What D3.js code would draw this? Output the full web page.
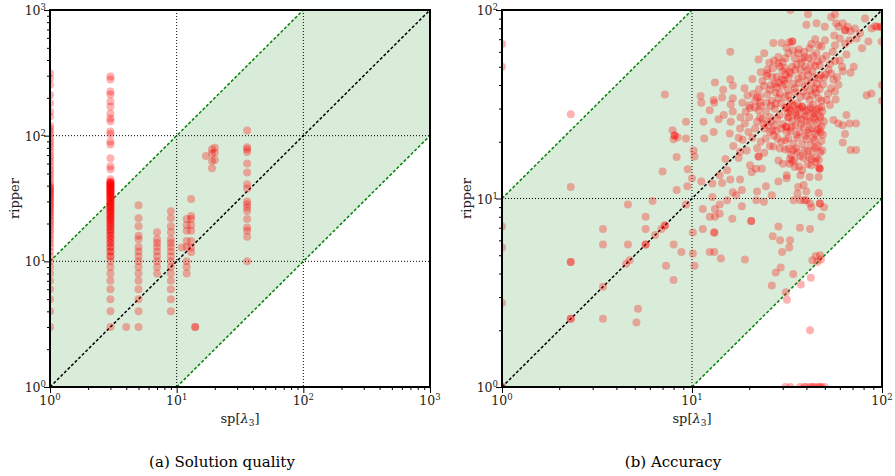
<!DOCTYPE html>
<html>
<head>
<meta charset="utf-8">
<script src="https://cdn.jsdelivr.net/npm/d3@7"></script>
<style>
  body { margin: 0; background: #fff; }
  svg text { font-family: "DejaVu Serif", serif; }
</style>
</head>
<body>
<div id="chart"></div>
<script>
// (a) solution quality: columns of ripper values per sp[λ3] value
var qualityColumns = [
  [1, [3,4,5,6,7,8,9,10,11,12,13,14,15,16,17,18,19,20,21,22,23,24,25,26,27,28,29,30,
       31,32,33,34,35,36,37,38,39,40,42,45,48,51,54,58,62,66,70,75,80,85,90,96,102,108,
       114,120,142,156,181,211,254,286,314]],
  [3, [3,4,5,6,7,8,9,10,11,12,13,14,15,16,17,18,19,20,21,22,23,24,25,26,27,28,29,30,
       31,32,33,34,35,36,37,38,39,40,41,42,43,11,12,13,14,15,16,17,18,19,20,21,22,23,24,
       25,26,27,28,29,30,31,32,33,34,35,36,37,38,39,40,41,42,43,
       45,54,57,66,85,90,103,108,130,137,150,171,187,213,225,280,296]],
  [4, [3]],
  [5, [3,4,5,6,7,8,9,10,11,12,13,15,16,19,22,28]],
  [7, [8,9,10,11,12,13,14,15,17]],
  [9, [4,5,6,7,8,9,10,11,12,13,14,15,17,19,22,25]],
  [11, [12.9]],
  [12, [8,9,10,13,14.5,17.5,19.5,21.7]],
  [13, [11.8,12.9,14.5,17.5,19.5,21.7,23,31.4]],
  [14, [3,3]],
  [36, [10,15.7,17.5,18.6,21.7,25.2,26.8,28.5,30,38,41,51,60,74,78,81,110]]
];
var qualityExtra = [[17,69],[19,78],[19,72],[19,63],[19,55],[20,80],[20,73],[20,64]];

// (b) accuracy: [sp[λ3], ripper]
var accuracyPoints = [
  [1,1],[1,1],[1,2.8],[1,5.5],[1,7.1],[1,50],[1,66],
  [2.3,2.3],[2.3,2.3],[3.4,2.3],[5.1,2.2],[5.2,2.6],[3.4,3.4],[8.0,3.7],[2.3,4.6],[2.3,4.6],
  [4.5,4.5],[4.7,4.7],[7.3,4.4],[8.8,5.2],[3.4,5.7],[4.6,5.7],[5.7,5.7],[5.7,5.7],[8.0,5.7],
  [6.4,6.4],[3.4,6.9],[5.7,6.9],[6.9,6.9],[7.2,7.2],[7.2,7.2],[5.7,8.0],[4.6,9.3],[6.2,9.7],
  [9.3,9.3],[2.3,11.5],[8.3,11.1],[9.45,11.6],[7.0,13.9],[9.5,14.3],[8.3,16.6],[8.0,20.6],
  [8.1,21.6],[8.1,21.6],[8.4,21.1],[9.3,20.8],[7.9,23],[9.3,25.5],[2.3,28],[7.2,35.6],
  [10,12.8],[10.1,6.6],[10.1,5.1],[10.3,4.4],
  [15.9,60],[22.4,54.6],[24,58.9],[26.8,66.9],[29.6,66.9],[32.5,67.4],[28.5,56.3],[30,52.9],
  [29,50],[31,55.4],[23,46.8],[24.9,48.2],[26.6,49.1],[27.9,44.3],[31,45.2],[24.7,44.6],
  [13.2,41.3],[15.9,42.9],[20.8,43.1],[14.6,37.8],[16.4,39.8],[18.9,38.5],[19.6,35.2],[22,34.4],
  [11.1,35],[11.2,32.2],[13,33.3],[13.1,32.2],[14.4,34.3],[16.4,34],[16,31.6],[18.4,32.2],
  [20,31.2],[21.4,30.4],[22.8,32.2],[24,39.5],[24.9,35.7],[25.7,37.7],[27.3,40.5],[28.5,41.3],
  [29.6,43.1],[31,40.5],[31,34.7],[28.5,34],[26.3,33],[24.7,32.2],[22.8,34.7],
  [21,36],[22.5,38],[23.5,42],[25,46],[26,40],[26.5,44],[27.5,36.5],[28,38.8],[29,36],
  [29.8,39.5],[30.5,42.5],[32,37.5],[32.5,47],[30,47.5],[28.5,52],[27,54],[25.5,52.5],[26,31],
  [27.5,31.8],[29.5,32],[23,31],[21.5,33],
  [33,100],[56.6,95],[54,91.9],[57.4,85],[59,81.5],[62.2,85],[66,81.5],[68.3,77.1],[72,79.8],
  [76.7,75.3],[73.5,70.6],[63.9,78.1],[63.9,78.1],[56,73.3],[60,70.6],[56.6,65.1],[63.9,66.2],
  [67.5,69.2],[50,81.5],[45.2,85],[40,83.4],[40.8,95],[81.4,90.2],[88.2,79.8],[94,81.5],
  [97.7,81.5],[100,81],[92,82],[99.6,68.1],[33.7,68.1],[33.7,68.1],[36.2,58.9],[32.2,58.9],
  [39.3,56.3],[34.8,55.4],[41.6,62.6],[46.4,65.1],[50.1,69.2],[45.2,58.9],[50.9,57.2],[42.5,52],
  [39.3,50],[47,50.8],[53.2,51.8],[56.6,53.7],[37.2,48.2],[33.7,50],[30.9,49.1],[52.3,48.2],
  [61.6,50],[62.2,47.3],[71,50],[68.3,46.4],[78.5,62.6],[84.8,68.1],[32.2,43.4],[36.2,43.4],
  [40.7,45.2],[46.4,43.4],[49,40.2],[44.4,38.5],[39.3,39.2],[34.8,38.5],[55.5,42.6],[58.9,40.1],
  [56.6,37],[32.2,35.3],[37.2,34.7],[41.6,33.3],[46.4,34],[51,33.3],[53.2,31.3],[83,35.3],
  [88,36.1],[100,40],[100,33],[33.7,31.4],[38,30.6],[43.5,31.4],[48,30.6],
  [33,33],[35,36.5],[36,32],[38.5,37],[40,35],[42,37.5],[43,35.5],[45,36.5],[47,38],[48,33],
  [34,40.5],[36.5,41],[38,44.5],[40,42],[42.5,41],[44,44],[45.5,40.5],[47.5,45],[49.5,43.8],
  [33,46],[35,48],[37.5,52.5],[40.5,48],[43,47.5],[44.5,50.5],[46,53.5],[48.5,55],[35.5,51.5],
  [38,55],[41,55.5],[43.5,57],[36.5,62],[39,60],[42.5,66],[44.5,70],[48,64],[34,61],[31.5,63],
  [52,36],[54,38.5],[57,33.5],[50.5,45.5],[54,46],[58,44],[60,54],[65,58],[55,60],
  [11.5,25.5],[11.6,20.8],[10.2,18],[10.3,16.7],[13,22.5],[13.8,26.3],[16,25.5],[16.4,28.9],
  [14.7,27.7],[12.4,29.4],[15.8,22.1],[17.9,23.5],[17.6,21],[19.8,22.5],[19.2,28.9],[20.2,30.2],
  [22.4,29.4],[22,25.5],[23.8,25],[25.7,27],[27.3,29.9],[29,27.7],[31,30.2],[32.3,26.8],
  [27.3,24.5],[29.6,23.5],[31.5,22.5],[25.7,22.5],[24.5,20.8],[28.2,20.8],[31,20.4],[26.8,18.9],
  [22.8,27],[24.5,29],[26,25.5],[28,26.5],[30,24.8],[32,28.5],[27,21.5],[29.5,20],[31.5,24],
  [24,23.5],[17.9,17.7],[17.6,16.4],[19.4,18],[22.4,16.7],[22.4,16.7],[23.3,14.4],[21.7,14.4],
  [20.2,15],[25.7,19],[29,18.4],[32.2,18.4],[28.5,15.9],[30.1,15.3],[32.8,16.2],[11.2,12.3],
  [12.8,12],[15,16.2],[15.3,14.1],[14,13.3],[14.4,12.1],[15.9,12.6],[17.9,12.6],[20.6,13.8],
  [16.4,10.8],[18.3,11.1],[22,10.9],[24.5,11.6],[28.5,12.3],[31.5,13.3],[12.8,10.2],[17.1,10.4],
  [26.3,10.4],[15.3,9.8],
  [16.5,19],[18.5,20.5],[19,25],[20.8,21],[21.5,23.5],[23,20],[22,18.5],[24,17.5],[20,27],
  [18,27],[25,24.5],[26.5,23],[27.8,22.8],[23.5,26.5],
  [31.5,30.5],[33,29],[34.5,31],[36,29.5],[38,30.8],[40,29.2],[42,30.4],[44,28.6],[46.5,30],
  [48.5,29],[32,27],[33.8,25.8],[35.5,27.6],[37.5,26.2],[39.5,27.3],[41.5,25.5],[43.5,27],
  [45.5,25.2],[47.5,26.8],[49.5,25.6],[31.2,24],[33,22.8],[35,24.4],[36.8,22.5],[38.8,23.8],
  [40.8,22.3],[42.8,23.6],[44.8,22],[46.8,23.4],[48.8,21.8],[32.2,20.8],[34.2,19.6],[36,21],
  [38,19.4],[40,20.6],[42,19.2],[44,20.4],[46,19],[48,20.2],[31,18.2],[33.2,17],[35.2,18.4],
  [37.2,16.8],[39.2,18],[41.2,16.6],[43.2,17.8],[45.2,16.4],[47.3,17.6],[32.6,15.3],[34.6,16],
  [36.6,14.8],[40.6,15.2],[44.6,15.6],[46.6,14.6],
  [32.5,29.8],[35,28.3],[37,30],[39,28],[41,29.8],[43,28],[45,29.5],[47,27.5],[33.5,23.8],
  [35.5,21.8],[37.5,24.8],[39.5,21.5],[41.5,23.2],[43.5,21],[45.5,23],[47.5,22.4],[34,18],
  [36,17.6],[38.5,16.4],[40.5,17.8],[42.5,16.2],[44.5,18.6],[46.5,16],[48.5,18],[36,26.8],
  [40.3,25.8],[44.3,26.2],[48,24.2],
  [55.5,26.1],[58.9,25],[65,27.7],[62.2,24.5],[67.5,25],[73,25],[63.9,22],[62.2,19.8],[68.3,18.1],
  [73,18.1],[47,14.4],[47,14.4],[33.7,15.7],[34.8,14.7],[38,14.1],[37.2,13.3],[42.5,15],[41.6,13],
  [31.5,12.8],[46.4,13],[36.2,11.5],[38.7,11.8],[35.9,10.6],[40,10.9],[46.4,10.7],[37.2,9.8],
  [40,9.8],[47,9.4],
  [11.4,8.8],[14,9.3],[18.3,9.1],[16.3,7.8],[20.5,7.6],[20.5,7.6],[13.2,8.8],[12.4,8],[13.2,8],
  [14,8.3],[11.4,6.9],[13.1,6.6],[13.1,6.6],[12.4,5.2],[13.1,5.2],[14.2,4.8],[19,4.75],[21.8,9.8],
  [23.9,9.6],[26.6,6.3],[28.5,7.1],[29.1,6],[32.8,6],[29.8,5.2],[32.5,5.5],[37,7],[41.8,6.9],
  [34.3,9.8],[39,9.8],[41.8,9.4],[42.5,9],[47.2,9.4],[49.5,9],[48,8],[29.3,4.3],[27.6,4.05],
  [26.3,3.45],[34.1,3.98],[31.2,3.18],[31.6,2.9],[37.4,3.5],[42.2,3.8],[44.8,4.95],[47.2,5],
  [43,4.7],[45.7,4.6],[47.7,4.75],[41.8,2],
  [31,1],[33,1],[37,1],[39,1],[40,1],[42,1],[43,1],[44,1],[46,1],[47,1],[48,1],[50,1]
];

var qualityPoints = [];
qualityColumns.forEach(function(c) {
  c[1].forEach(function(v) { qualityPoints.push([c[0], v]); });
});
qualityExtra.forEach(function(p) { qualityPoints.push(p); });

var svg = d3.select("#chart").append("svg")
  .attr("width", 895)
  .attr("height", 476)
  .style("display", "block");

var panels = [
  {id: "pa", left: 50, right: 430, top: 10, bottom: 387, maxExp: 3,
   caption: "(a) Solution quality", capX: 222, points: qualityPoints},
  {id: "pb", left: 502, right: 882, top: 10, bottom: 387, maxExp: 2,
   caption: "(b) Accuracy", capX: 673, points: accuracyPoints}
];

function powLabel(sel, e) {
  sel.text("10");
  sel.append("tspan").attr("dy", -5).attr("font-size", 8.5).text(e);
}

function drawPanel(p) {
  var top = Math.pow(10, p.maxExp);
  var x = d3.scaleLog().domain([1, top]).range([p.left, p.right]);
  var y = d3.scaleLog().domain([1, top]).range([p.bottom, p.top]);
  var g = svg.append("g");

  g.append("clipPath").attr("id", p.id)
    .append("rect")
    .attr("x", p.left).attr("y", p.top)
    .attr("width", p.right - p.left).attr("height", p.bottom - p.top);

  var line = d3.line()
    .x(function(d) { return x(d[0]); })
    .y(function(d) { return y(d[1]); });

  var plot = g.append("g").attr("clip-path", "url(#" + p.id + ")");

  // band between y = x/10 and y = 10x
  var band = [[1,1],[1,10],[top/10,top],[top,top],[top,top/10],[10,1]];
  plot.append("path")
    .attr("d", line(band) + "Z")
    .attr("fill", "#d9ecd9");

  // dotted grid at inner decades
  var inner = d3.range(1, p.maxExp).map(function(e) { return Math.pow(10, e); });
  inner.forEach(function(v) {
    plot.append("line")
      .attr("x1", x(v)).attr("x2", x(v)).attr("y1", p.top).attr("y2", p.bottom)
      .attr("stroke", "#000").attr("stroke-width", 1).attr("stroke-dasharray", "1,2");
    plot.append("line")
      .attr("x1", p.left).attr("x2", p.right).attr("y1", y(v)).attr("y2", y(v))
      .attr("stroke", "#000").attr("stroke-width", 1).attr("stroke-dasharray", "1,2");
  });

  plot.append("path")
    .attr("d", line([[1,10],[top/10,top]]))
    .attr("stroke", "#008000").attr("stroke-width", 1.5)
    .attr("stroke-dasharray", "3,2").attr("fill", "none");
  plot.append("path")
    .attr("d", line([[10,1],[top,top/10]]))
    .attr("stroke", "#008000").attr("stroke-width", 1.5)
    .attr("stroke-dasharray", "3,2").attr("fill", "none");
  plot.append("path")
    .attr("d", line([[1,1],[top,top]]))
    .attr("stroke", "#000").attr("stroke-width", 1.5)
    .attr("stroke-dasharray", "3,2").attr("fill", "none");

  plot.selectAll("circle")
    .data(p.points)
    .enter().append("circle")
    .attr("cx", function(d) { return x(d[0]); })
    .attr("cy", function(d) { return y(d[1]); })
    .attr("r", 4)
    .attr("fill", "#ff0000")
    .attr("fill-opacity", 0.3);

  // ticks
  var majors = d3.range(0, p.maxExp + 1).map(function(e) { return Math.pow(10, e); });
  var minors = [];
  for (var e = 0; e < p.maxExp; e++) {
    for (var m = 2; m < 10; m++) minors.push(m * Math.pow(10, e));
  }
  function noDomain(s) { s.select(".domain").remove(); }

  g.append("g").attr("transform", "translate(0," + p.bottom + ")")
    .call(d3.axisBottom(x).tickValues(minors).tickSize(3).tickFormat(""))
    .call(noDomain);
  g.append("g").attr("transform", "translate(0," + p.bottom + ")")
    .call(d3.axisBottom(x).tickValues(majors).tickSize(6).tickFormat(""))
    .call(noDomain);
  g.append("g").attr("transform", "translate(" + p.left + ",0)")
    .call(d3.axisLeft(y).tickValues(minors).tickSize(3).tickFormat(""))
    .call(noDomain);
  g.append("g").attr("transform", "translate(" + p.left + ",0)")
    .call(d3.axisLeft(y).tickValues(majors).tickSize(6).tickFormat(""))
    .call(noDomain);

  majors.forEach(function(v, i) {
    g.append("text")
      .attr("x", x(v)).attr("y", p.bottom + 18)
      .attr("text-anchor", "middle").attr("font-size", 12.5).attr("fill", "#222")
      .call(powLabel, i);
    g.append("text")
      .attr("x", p.left - 4).attr("y", y(v) + 5)
      .attr("text-anchor", "end").attr("font-size", 12.5).attr("fill", "#222")
      .call(powLabel, i);
  });

  g.append("rect")
    .attr("x", p.left).attr("y", p.top)
    .attr("width", p.right - p.left).attr("height", p.bottom - p.top)
    .attr("fill", "none").attr("stroke", "#000").attr("stroke-width", 2);

  // axis titles
  var xl = g.append("text")
    .attr("x", (p.left + p.right) / 2).attr("y", p.bottom + 36)
    .attr("text-anchor", "middle").attr("font-size", 13).attr("fill", "#222");
  xl.append("tspan").text("sp[");
  xl.append("tspan").attr("font-style", "italic").text("λ");
  xl.append("tspan").attr("dy", 3).attr("font-size", 9).text("3");
  xl.append("tspan").attr("dy", -3).text("]");

  g.append("text")
    .attr("transform", "translate(" + (p.left - 31) + "," + ((p.top + p.bottom) / 2) + ") rotate(-90)")
    .attr("text-anchor", "middle").attr("font-size", 13).attr("fill", "#222")
    .text("ripper");

  g.append("text")
    .attr("x", p.capX).attr("y", 467)
    .attr("text-anchor", "middle").attr("font-size", 15).attr("fill", "#000")
    .text(p.caption);
}

panels.forEach(drawPanel);
</script>
</body>
</html>
